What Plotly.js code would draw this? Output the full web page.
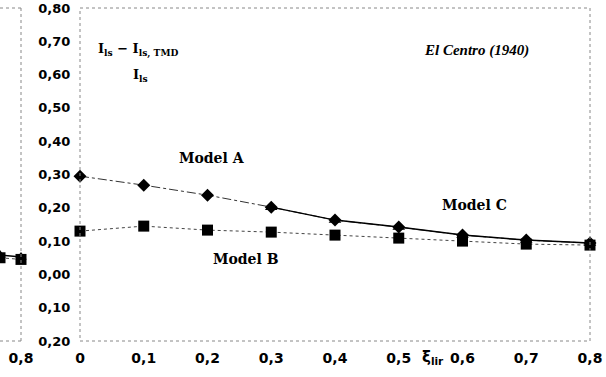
<!DOCTYPE html>
<html>
<head>
<meta charset="utf-8">
<script src="https://cdn.plot.ly/plotly-3.0.1.min.js"></script>
<style>
  html, body { margin: 0; padding: 0; background: #fff; }
  #chart { width: 606px; height: 377px; }
</style>
</head>
<body>
<div id="chart"></div>
<script>
// Relative intensity reduction vs. damping ratio, El Centro (1940)
const xi = [0, 0.1, 0.2, 0.3, 0.4, 0.5, 0.6, 0.7, 0.8];
const modelA = [0.295, 0.268, 0.238, 0.202, 0.163, 0.142, 0.118, 0.103, 0.094];
const modelB = [0.130, 0.145, 0.133, 0.127, 0.118, 0.109, 0.100, 0.091, 0.088];
const xiC = [0.3, 0.4, 0.5, 0.6, 0.7, 0.8];
const modelC = [0.202, 0.163, 0.142, 0.118, 0.103, 0.094];

// tail of the neighbouring panel on the left
const prevX = [0.7, 0.8];
const prevC = [0.058, 0.052];
const prevB = [0.050, 0.045];

const xTickVals = [0, 0.1, 0.2, 0.3, 0.4, 0.5, 0.6, 0.7, 0.8];
const xTickText = ['0', '0,1', '0,2', '0,3', '0,4', '0,5', '0,6', '0,7', '0,8'];
const yTickVals = [-0.2, -0.1, 0, 0.1, 0.2, 0.3, 0.4, 0.5, 0.6, 0.7, 0.8];
const yTickText = ['0,20', '0,10', '0,00', '0,10', '0,20', '0,30', '0,40', '0,50', '0,60', '0,70', '0,80'];

const xTickFont = { family: 'DejaVu Sans', size: 14, color: '#000', weight: 'bold' };
const yTickFont = { family: 'DejaVu Sans', size: 13, color: '#000', weight: 'bold' };
const labelFont = { family: 'DejaVu Serif', size: 14, color: '#000', weight: 'bold' };

const traces = [
  {
    x: xi, y: modelA, name: 'Model A', mode: 'lines+markers',
    line: { color: '#333', width: 1, dash: 'dashdot' },
    marker: { symbol: 'diamond', size: 10, color: '#000' },
    cliponaxis: false
  },
  {
    x: xi, y: modelB, name: 'Model B', mode: 'lines+markers',
    line: { color: '#444', width: 1, dash: 'dot' },
    marker: { symbol: 'square', size: 11, color: '#000' },
    cliponaxis: false
  },
  {
    x: xiC, y: modelC, name: 'Model C', mode: 'lines+markers',
    line: { color: '#000', width: 1.5 },
    marker: { symbol: 'triangle-up', size: 11, color: '#000' },
    cliponaxis: false
  },
  {
    x: prevX, y: prevB, xaxis: 'x2', yaxis: 'y', mode: 'lines+markers',
    line: { color: '#444', width: 1, dash: 'dot' },
    marker: { symbol: 'square', size: 11, color: '#000' },
    cliponaxis: false, showlegend: false
  },
  {
    x: prevX, y: prevC, xaxis: 'x2', yaxis: 'y', mode: 'lines+markers',
    line: { color: '#000', width: 1.5 },
    marker: { symbol: 'triangle-up', size: 10, color: '#000' },
    cliponaxis: false, showlegend: false
  }
];

const dotted = { color: '#888', width: 1, dash: 'dot' };

// text labels placed by pixel position (x from left, y from top)
const notes = [
  { text: 'Model A', px: 212, py: 158, font: labelFont },
  { text: 'Model B', px: 246, py: 259, font: labelFont },
  { text: 'Model C', px: 474, py: 205, font: labelFont },
  { text: 'El Centro (1940)', px: 476, py: 51,
    font: { family: 'Liberation Serif', size: 15, color: '#000', weight: 'bold', style: 'italic' } },
  { text: 'I<sub>ls</sub> − I<sub>ls, TMD</sub>', px: 138, py: 50,
    font: { family: 'DejaVu Serif', size: 13, color: '#000', weight: 'bold' } },
  { text: 'I<sub>ls</sub>', px: 140, py: 75,
    font: { family: 'DejaVu Serif', size: 13, color: '#000', weight: 'bold' } },
  { text: 'ξ<sub>lir</sub>', px: 433, py: 357,
    font: { family: 'DejaVu Sans', size: 15, color: '#000', weight: 'bold' } }
];

const margin = { l: 0, r: 16, t: 8, b: 36, pad: 0 };
const plotW = 606 - margin.l - margin.r;
const plotH = 377 - margin.t - margin.b;

const layout = {
  width: 606, height: 377,
  margin: margin,
  paper_bgcolor: '#fff', plot_bgcolor: '#fff',
  showlegend: false,
  xaxis: {
    domain: [80 / 590, 1], range: [0, 0.8],
    tickvals: xTickVals, ticktext: xTickText, tickfont: xTickFont,
    showgrid: false, zeroline: false, showline: false,
    ticks: 'outside', ticklen: 4, tickcolor: 'rgba(0,0,0,0)'
  },
  xaxis2: {
    domain: [0, 21 / 590], range: [0.7, 0.8], anchor: 'y',
    tickvals: [0.8], ticktext: ['0,8'], tickfont: xTickFont,
    showgrid: false, zeroline: false, showline: false,
    ticks: 'outside', ticklen: 4, tickcolor: 'rgba(0,0,0,0)'
  },
  yaxis: {
    range: [-0.2, 0.8], anchor: 'x',
    tickvals: yTickVals, ticktext: yTickText, tickfont: yTickFont,
    showgrid: false, zeroline: false, showline: false,
    ticks: 'outside', ticklen: 6, tickcolor: 'rgba(0,0,0,0)'
  },
  shapes: [
    { type: 'rect', xref: 'x domain', yref: 'y domain', x0: 0, x1: 1, y0: 0, y1: 1, line: dotted },
    { type: 'line', xref: 'x2 domain', yref: 'y domain', x0: 0, x1: 1, y0: 1, y1: 1, line: dotted },
    { type: 'line', xref: 'x2 domain', yref: 'y domain', x0: 1, x1: 1, y0: 0, y1: 1, line: dotted },
    { type: 'line', xref: 'x2 domain', yref: 'y domain', x0: 0, x1: 1, y0: 0, y1: 0, line: dotted }
  ],
  annotations: notes.map(n => ({
    text: n.text, font: n.font, showarrow: false,
    xref: 'paper', yref: 'paper',
    xanchor: 'center', yanchor: 'middle',
    x: (n.px - margin.l) / plotW,
    y: (377 - n.py - margin.b) / plotH
  }))
};

Plotly.newPlot('chart', traces, layout, { displayModeBar: false, staticPlot: true });
</script>
</body>
</html>
